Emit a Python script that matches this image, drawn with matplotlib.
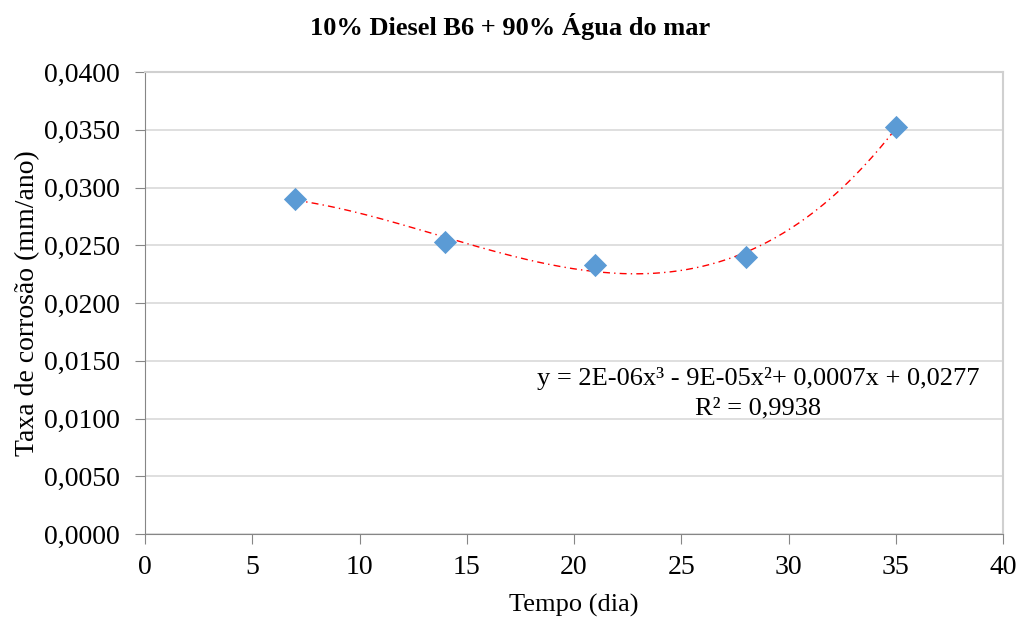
import numpy as np
import matplotlib
matplotlib.use("Agg")
import matplotlib.pyplot as plt
from matplotlib.ticker import FuncFormatter, MultipleLocator

plt.rcParams['font.family'] = ['Liberation Serif', 'DejaVu Serif']

tempo = [7, 14, 21, 28, 35]
taxa = [0.0290, 0.0253, 0.0233, 0.0240, 0.0352]
title = "10% Diesel B6 + 90% Água do mar"
eq_text = "y = 2E-06x³ - 9E-05x²+ 0,0007x + 0,0277\nR² = 0,9938"

fig = plt.figure(figsize=(10.21, 6.17), dpi=100)
ax = fig.add_axes([145/1021, 1-534/617, (1003-145)/1021, (534-72)/617])

coef = np.polyfit(tempo, taxa, 3)
xs = np.linspace(min(tempo), max(tempo), 300)
ax.plot(xs, np.polyval(coef, xs), color='#ff0000', lw=1.0, ls=(0, (5, 3, 1, 3)), zorder=2)
ax.scatter(tempo, taxa, marker='D', s=140, color='#5b9bd5', zorder=3, linewidths=0)

ax.set_xlim(0, 40)
ax.set_ylim(0, 0.04)
ax.xaxis.set_major_locator(MultipleLocator(5))
ax.yaxis.set_major_locator(MultipleLocator(0.005))
ax.yaxis.set_major_formatter(FuncFormatter(lambda v, p: f"{v:.4f}".replace('.', ',')))
ax.grid(axis='y', color='#d9d9d9', lw=1.2)
ax.set_axisbelow(True)
for s in ['left', 'bottom']:
    ax.spines[s].set_color('#868686')
for s in ['top', 'right']:
    ax.spines[s].set_color('#d0d0d0')
    ax.spines[s].set_linewidth(1.5)
ax.tick_params(direction='out', length=7, color='#868686', labelsize=20)
ax.tick_params(axis='y', pad=11)
ax.tick_params(axis='x', pad=8)

ax.set_xlabel("Tempo (dia)", fontsize=19, labelpad=10)
ax.set_ylabel("Taxa de corrosão (mm/ano)", fontsize=20, labelpad=3)
fig.text(510/1021, 1-27/617, title, ha='center', va='center', fontsize=19, fontweight='bold')
ax.text(28.6, 0.0122, eq_text, ha='center', va='center', fontsize=19, linespacing=1.4)

fig.savefig("out.png", dpi=100)
